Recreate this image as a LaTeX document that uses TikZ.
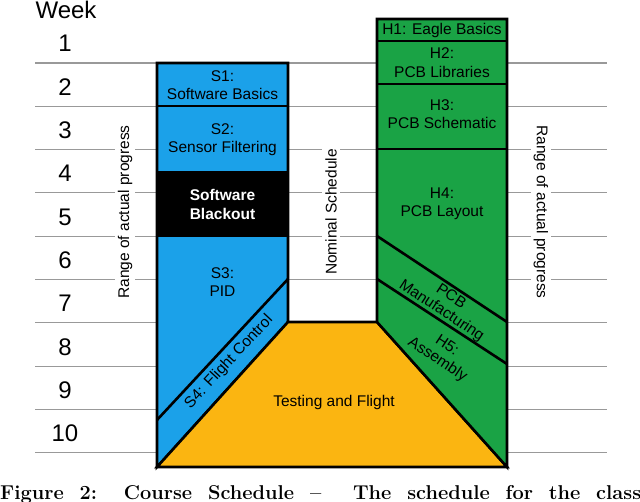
\documentclass[tikz,border=0pt]{standalone}
\usepackage{fontspec}
\newfontfamily\diagfont{Liberation Sans}
\usepackage{xcolor}
\usetikzlibrary{positioning}
\definecolor{swblue}{HTML}{1BA1E9}
\definecolor{hwgreen}{HTML}{1AA345}
\definecolor{testorange}{HTML}{FBB511}

\begin{document}
\begin{tikzpicture}[x=1pt,y=-1pt,
    every node/.style={font={\diagfont\fontsize{15.5}{18.5}\selectfont}, align=center, inner sep=0pt},
    outline/.style={draw=black, line width=2.6pt, line join=miter},
    gridline/.style={draw=black!40, line width=1.1pt},
    weeknum/.style={font={\diagfont\fontsize{24}{28}\selectfont}},
    sidelabel/.style={fill=white, inner xsep=2pt, inner ysep=3pt}]
      \def\yTop{63}
      \def\rowH{43.3}
      \def\sL{157}
      \def\sR{288}
      \def\hL{377}
      \def\hR{507}
      \def\yBot{467}

      \useasboundingbox (0,0) rectangle (640,502);

      % WEEKS
      \foreach \k in {0,...,9}
        \draw[gridline] (35,\yTop+\k*\rowH) -- (607,\yTop+\k*\rowH);
      \node[weeknum, anchor=base] (week) at (66,18.5) {Week};
      \foreach \k [evaluate=\k as \n using int(\k+1)] in {0,...,9}
        \node[weeknum, anchor=base] (wk\n) at (65,\yTop-11+\k*\rowH) {\n};

      % SIDE LABELS
      \node[sidelabel, rotate=90] (rangeL) at (125,212) {Range of actual progress};
      \node[sidelabel, rotate=90] (nominal) at (331,212) {Nominal Schedule};
      \node[sidelabel, rotate=-90] (rangeR) at (541,212) {Range of actual progress};

      % SOFTWARE
      \draw[outline, fill=swblue] (\sL,\yTop) -- (\sR,\yTop) -- (\sR,322) -- (\sL,\yBot) -- cycle;
      \draw[outline] (\sL,\yTop) rectangle (\sR,106);
      \draw[outline] (\sL,106) rectangle (\sR,172);
      \draw[outline, fill=black] (\sL,172) rectangle (\sR,236);
      \draw[outline] (\sL,420) -- (\sR,279);

      % TESTING
      \draw[outline, fill=testorange] (\sL,\yBot) -- (\sR,322) -- (\hL,322) -- (\hR,\yBot) -- cycle;

      % HARDWARE
      \draw[outline, fill=hwgreen] (\hL,19) -- (\hR,19) -- (\hR,\yBot) -- (\hL,322) -- cycle;
      \draw[outline] (\hL,41) -- (\hR,41) (\hL,84) -- (\hR,84) (\hL,149) -- (\hR,149);
      \draw[outline] (\hL,236) -- (\hR,322) (\hL,279) -- (\hR,364);

      \node (s1) at (222.5,85) {S1:\\Software Basics};
      \node (s2) at (222.5,139.5) {S2:\\Sensor Filtering};
      \node[text=white, font={\diagfont\bfseries\fontsize{15.5}{19}\selectfont}] (blackout) at (222.5,204) {Software\\Blackout};
      \node (s3) at (222.5,282) {S3:\\PID};
      \node[rotate=47] (s4) at (229,362) {S4: Flight Control};
      \node (testing) at (334,402) {Testing and Flight};
      \node (h1) at (442,30) {H1: Eagle Basics};
      \node (h2) at (442,62.5) {H2:\\PCB Libraries};
      \node (h3) at (442,114) {H3:\\PCB Schematic};
      \node (h4) at (442,204) {H4:\\PCB Layout};
      \node[rotate=-33.5, font={\diagfont\fontsize{15.5}{17}\selectfont}] (mfg) at (446,304) {PCB\\Manufacturing};
      \node[rotate=-33.5, font={\diagfont\fontsize{15.5}{17}\selectfont}] (h5) at (442,353) {H5:\\Assembly};

      % CAPTION
      \node[anchor=base west, font={\bfseries\fontsize{20}{24}\selectfont}] (caption) at (0,499)
        {\makebox[641pt][s]{Figure 2: Course Schedule – \ The schedule for the class}};
\end{tikzpicture}
\end{document}
